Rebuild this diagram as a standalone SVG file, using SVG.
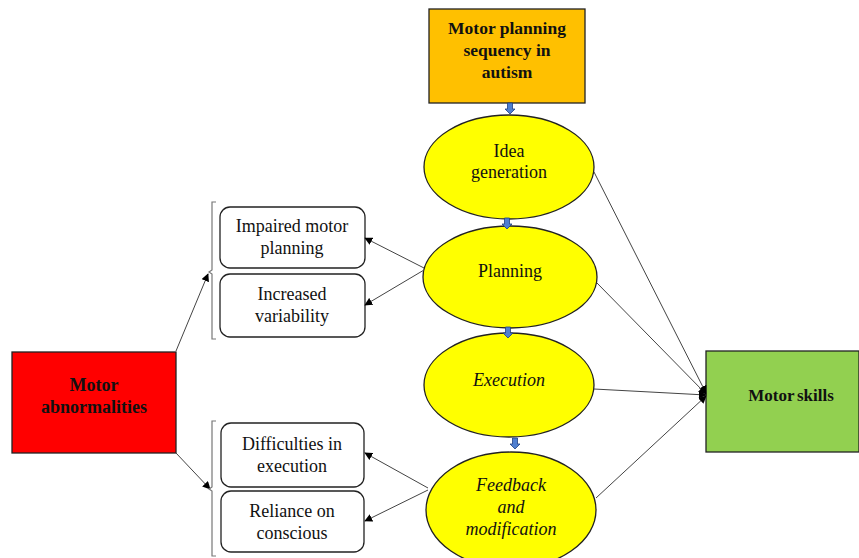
<svg xmlns="http://www.w3.org/2000/svg" width="859" height="558" viewBox="0 0 859 558">
  <defs>
    <marker id="ah" viewBox="0 0 10 10" refX="9" refY="5" markerWidth="8" markerHeight="8" orient="auto" markerUnits="userSpaceOnUse">
      <path d="M0,0 L10,5 L0,10 z" fill="#000"/>
    </marker>
    <path id="blk" d="M-2.5,0 H2.5 V6 H5 L0,11 L-5,6 H-2.5 z"/>
  </defs>
  <style>
    text { font-family: "Liberation Serif", "Times New Roman", serif; fill: #111; text-anchor: middle; }
    .t { font-size: 18px; }
    .b { font-size: 17.5px; font-weight: bold; }
    .i { font-size: 18px; font-style: italic; }
    .oval { fill: #ffff00; stroke: #222; stroke-width: 1.3; }
    .box { fill: #fff; stroke: #222; stroke-width: 1.3; }
    .conn { stroke: #444; stroke-width: 1; fill: none; }
    .brk { stroke: #777; stroke-width: 1.2; fill: none; }
    .step { fill: #4f7fd0; stroke: #1f3f80; stroke-width: 0.8; }
  </style>

  <g id="sequence-title">
    <rect x="429" y="9" width="156" height="94" fill="#ffc000" stroke="#222" stroke-width="1.3"/>
    <text class="b" x="507" y="34">Motor planning</text>
    <text class="b" x="507" y="56">sequency in</text>
    <text class="b" x="507" y="78">autism</text>
  </g>

  <g id="idea-generation">
    <ellipse class="oval" cx="509" cy="167" rx="85" ry="52"/>
    <text class="t" x="509" y="157">Idea</text>
    <text class="t" x="509" y="178">generation</text>
  </g>

  <g id="planning">
    <ellipse class="oval" cx="510" cy="277" rx="87" ry="51"/>
    <text class="t" x="510" y="277">Planning</text>
  </g>

  <g id="execution">
    <ellipse class="oval" cx="509" cy="385" rx="85" ry="52"/>
    <text class="i" x="509" y="386">Execution</text>
  </g>

  <g id="feedback">
    <ellipse class="oval" cx="511" cy="510" rx="85" ry="58"/>
    <text class="i" x="511" y="491">Feedback</text>
    <text class="i" x="511" y="513">and</text>
    <text class="i" x="511" y="535">modification</text>
  </g>

  <g id="motor-abnormalities">
    <rect x="12" y="352" width="164" height="101" fill="#ff0000" stroke="#222" stroke-width="1.3"/>
    <text class="b" x="94" y="391" style="font-size:18px">Motor</text>
    <text class="b" x="94" y="413" style="font-size:18px">abnormalities</text>
  </g>

  <g id="motor-skills">
    <rect x="706" y="351" width="153" height="101" fill="#92d050" stroke="#222" stroke-width="1.3"/>
    <text class="b" x="791" y="401" style="font-size:17px;word-spacing:-1.5px">Motor skills</text>
  </g>

  <g id="impaired-motor-planning">
    <rect class="box" x="220" y="207" width="145" height="61" rx="10"/>
    <text class="t" x="292" y="232">Impaired motor</text>
    <text class="t" x="292" y="254">planning</text>
  </g>

  <g id="increased-variability">
    <rect class="box" x="220" y="274" width="145" height="63" rx="10"/>
    <text class="t" x="292" y="300">Increased</text>
    <text class="t" x="292" y="322">variability</text>
  </g>

  <g id="difficulties-in-execution">
    <rect class="box" x="221" y="423" width="143" height="64" rx="10"/>
    <text class="t" x="292" y="450">Difficulties in</text>
    <text class="t" x="292" y="472">execution</text>
  </g>

  <g id="reliance-on-conscious">
    <rect class="box" x="221" y="491" width="143" height="61" rx="10"/>
    <text class="t" x="292" y="517">Reliance on</text>
    <text class="t" x="292" y="539">conscious</text>
  </g>

  <g id="connectors">
    <!-- step arrows down the central column -->
    <use href="#blk" class="step" x="510" y="103"/>
    <use href="#blk" class="step" x="507" y="218"/>
    <use href="#blk" class="step" x="508" y="327"/>
    <use href="#blk" class="step" x="515" y="438"/>
    <!-- motor abnormalities to the two groups -->
    <line class="conn" x1="176" y1="351" x2="208" y2="274" marker-end="url(#ah)"/>
    <line class="conn" x1="176" y1="453" x2="210" y2="489" marker-end="url(#ah)"/>
    <!-- planning to its outcomes -->
    <line class="conn" x1="424" y1="268" x2="365" y2="238" marker-end="url(#ah)"/>
    <line class="conn" x1="424" y1="270" x2="365" y2="305" marker-end="url(#ah)"/>
    <!-- feedback to its outcomes -->
    <line class="conn" x1="428" y1="488" x2="365" y2="453" marker-end="url(#ah)"/>
    <line class="conn" x1="428" y1="490" x2="365" y2="521" marker-end="url(#ah)"/>
    <!-- stages to motor skills -->
    <line class="conn" x1="594" y1="172" x2="706" y2="393" marker-end="url(#ah)"/>
    <line class="conn" x1="597" y1="283" x2="706" y2="394" marker-end="url(#ah)"/>
    <line class="conn" x1="594" y1="389" x2="706" y2="395" marker-end="url(#ah)"/>
    <line class="conn" x1="596" y1="498" x2="706" y2="396" marker-end="url(#ah)"/>
    <!-- brackets grouping the outcome boxes -->
    <path class="brk" d="M216,202 H212 V270 L209,272 L212,274 V339 H216"/>
    <path class="brk" d="M216,421 H212 V487 L209,489 L212,491 V556 H216"/>
  </g>
</svg>
